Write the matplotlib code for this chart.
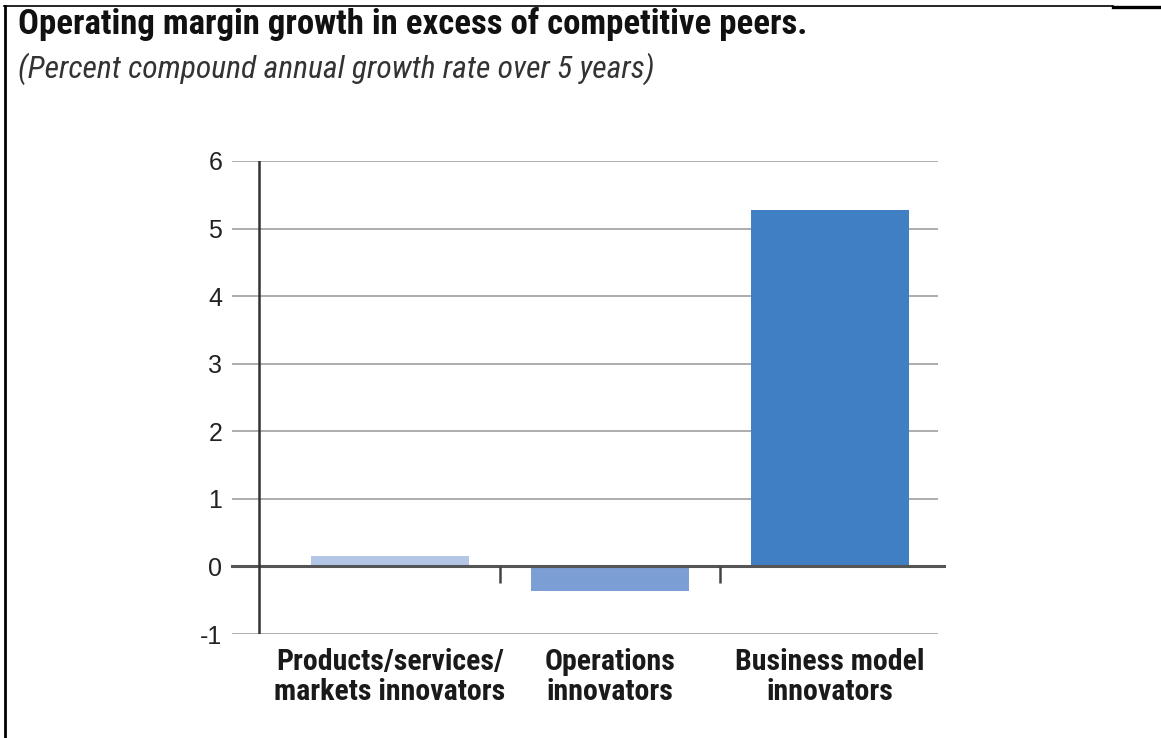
import matplotlib
matplotlib.use("Agg")
import matplotlib.pyplot as plt
from matplotlib.lines import Line2D

categories = ["Products/services/\nmarkets innovators", "Operations\ninnovators", "Business model\ninnovators"]
values = [0.16, -0.37, 5.27]
colors = ["#B3C6E6", "#7B9ED4", "#407FC3"]
y_ticks = [-1, 0, 1, 2, 3, 4, 5, 6]

COND = ["Roboto Condensed", "Liberation Sans", "DejaVu Sans"]

fig = plt.figure(figsize=(11.61, 7.38), dpi=100)
W, H = 1161, 738


def fx(px):
    return px / W


def fy(py):
    return 1 - py / H


ax = fig.add_axes([fx(232), fy(634), fx(938) - fx(232), fy(161) - fy(634)])
x = list(range(len(categories)))
ax.bar(x, values, width=0.72, color=colors, zorder=3)

ax.set_xlim(-0.717, 2.49)
ax.set_ylim(-1, 6)
for s in ax.spines.values():
    s.set_visible(False)

# gridlines, zero baseline, y axis line and category separators
for t in y_ticks:
    if t != 0:
        ax.axhline(t, color="#A6A6A6", lw=1.3, zorder=1)
ax.plot([-0.717, 2.515], [0, 0], color="#555555", lw=2.2, zorder=4, clip_on=False)
ax.axvline(-0.595, color="#333333", lw=1.8, zorder=5)
ax.vlines([0.5, 1.5], -0.25, 0, color="#444444", lw=1.8, zorder=4)

ax.set_yticks(y_ticks)
ax.set_yticklabels([str(t) for t in y_ticks], fontsize=18, family="Liberation Sans", color="#222222")
ax.set_xticks(x)
ax.set_xticklabels(categories, fontsize=21.5, family=COND, fontweight="bold", color="#1a1a1a", linespacing=1.1)
ax.tick_params(axis="y", length=0, pad=7)
ax.tick_params(axis="x", length=0, pad=10)

fig.text(fx(18), fy(24), "Operating margin growth in excess of competitive peers.",
         fontsize=25, family=COND, fontweight="bold", color="#111111", va="center", ha="left")
fig.text(fx(18), fy(69), "(Percent compound annual growth rate over 5 years)",
         fontsize=22.8, family=COND, fontstyle="italic", color="#333333", va="center", ha="left")

# frame lines around the figure
fig.add_artist(Line2D([fx(5), fx(5)], [fy(6), 0], transform=fig.transFigure, color="black", lw=2))
fig.add_artist(Line2D([fx(4), fx(1113)], [fy(6), fy(6)], transform=fig.transFigure, color="black", lw=1.2))
fig.add_artist(Line2D([fx(1113), 1], [fy(7), fy(7)], transform=fig.transFigure, color="black", lw=2.4))

fig.savefig("out.png", dpi=100, facecolor="white")
